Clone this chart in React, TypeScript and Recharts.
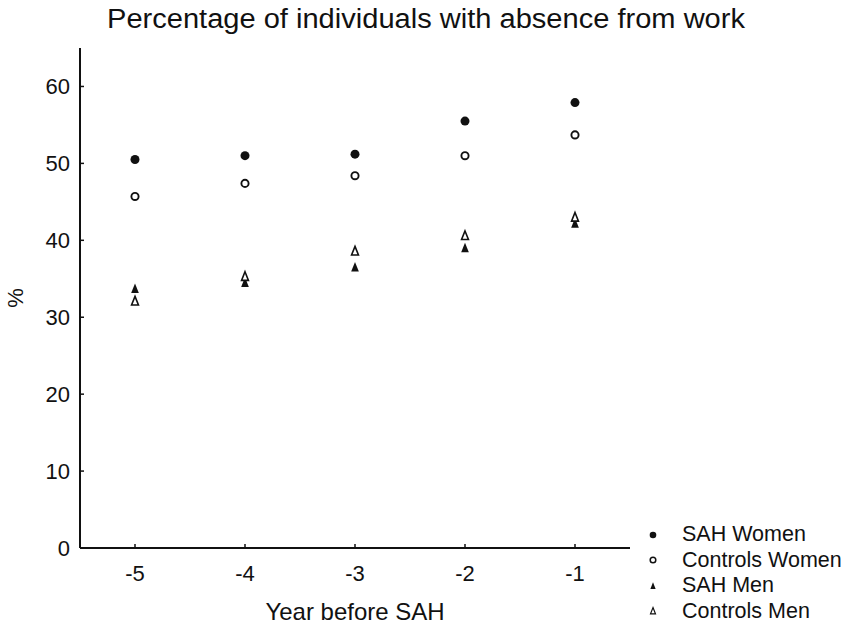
import React from 'react';
import { ScatterChart, Scatter, XAxis, YAxis, Legend, Customized } from 'recharts';

const years = [-5, -4, -3, -2, -1];
const sahWomen = [50.5, 51.0, 51.2, 55.5, 57.9];
const controlsWomen = [45.7, 47.4, 48.4, 51.0, 53.7];
const sahMen = [33.7, 34.5, 36.5, 39.0, 42.2];
const controlsMen = [32.1, 35.3, 38.6, 40.6, 43.0];
const yTicks = [0, 10, 20, 30, 40, 50, 60];
const xTicks = [-5, -4, -3, -2, -1];
const seriesNames = ['SAH Women', 'Controls Women', 'SAH Men', 'Controls Men'];
const titleText = 'Percentage of individuals with absence from work';
const xLabel = 'Year before SAH';
const yLabel = '%';

const FONT = '"Liberation Sans", Arial, Helvetica, sans-serif';
const INK = '#111';

const toPoints = (vals: number[]) => years.map((x, i) => ({ x, y: vals[i] }));

const FilledCircle = (p: any) => <circle cx={p.cx} cy={p.cy} r={4.5} fill={INK} />;
const OpenCircle = (p: any) => (
  <circle cx={p.cx} cy={p.cy} r={3.6} fill="#fff" stroke={INK} strokeWidth={1.9} />
);
const triPath = (cx: number, cy: number, s: number) =>
  `M${cx},${cy - s * 1.1} L${cx + s * 0.8},${cy + s * 0.9} L${cx - s * 0.8},${cy + s * 0.9} Z`;
const FilledTri = (p: any) => <path d={triPath(p.cx, p.cy, 4.8)} fill={INK} />;
const OpenTri = (p: any) => (
  <path d={triPath(p.cx, p.cy, 4.3)} fill="#fff" stroke={INK} strokeWidth={1.6} strokeLinejoin="miter" />
);

const shapes = [FilledCircle, OpenCircle, FilledTri, OpenTri];
const seriesData = [sahWomen, controlsWomen, sahMen, controlsMen];

const XTick = (props: any) => {
  const { x, y, payload } = props;
  return (
    <g>
      <line x1={x} y1={y} x2={x} y2={y - 4} stroke={INK} strokeWidth={1.5} />
      <text x={x} y={y + 33} textAnchor="middle" fontSize={22} fontFamily={FONT} fill={INK}>
        {payload.value}
      </text>
    </g>
  );
};

const YTick = (props: any) => {
  const { x, y, payload } = props;
  return (
    <g>
      <line x1={x} y1={y} x2={x + 4} y2={y} stroke={INK} strokeWidth={1.5} />
      <text x={x - 10} y={y + 8} textAnchor="end" fontSize={22} fontFamily={FONT} fill={INK}>
        {payload.value}
      </text>
    </g>
  );
};

const Title = () => (
  <text
    x={426}
    y={28}
    textAnchor="middle"
    fontSize={27}
    fontFamily={FONT}
    fill={INK}
    textLength={638}
    lengthAdjust="spacingAndGlyphs"
  >
    {titleText}
  </text>
);

const LegendMarker = ({ i }: { i: number }) => {
  const c = 8;
  const m = 8;
  if (i === 0) return <circle cx={c} cy={m} r={3.3} fill={INK} />;
  if (i === 1) return <circle cx={c} cy={m} r={2.8} fill="#fff" stroke={INK} strokeWidth={1.5} />;
  if (i === 2) return <path d={triPath(c, m, 3.3)} fill={INK} />;
  return <path d={triPath(c, m, 3.1)} fill="#fff" stroke={INK} strokeWidth={1.2} />;
};

const LegendContent = () => (
  <div style={{ fontFamily: FONT, fontSize: 21.5, color: INK }}>
    {seriesNames.map((n, i) => (
      <div key={n} style={{ display: 'flex', alignItems: 'center', height: 25.5, lineHeight: '25.5px' }}>
        <svg width={16} height={16} style={{ display: 'block', flex: 'none' }}>
          <LegendMarker i={i} />
        </svg>
        <span style={{ marginLeft: 21, whiteSpace: 'nowrap' }}>{n}</span>
      </div>
    ))}
  </div>
);

export default function App() {
  return (
    <div style={{ position: 'absolute', left: 0, top: 0, width: 851, height: 628, background: '#fff' }}>
      <ScatterChart width={851} height={628} margin={{ top: 48, right: 221, bottom: 0, left: 0 }}>
        <XAxis
          type="number"
          dataKey="x"
          domain={[-5.5, -0.5]}
          ticks={xTicks}
          height={80}
          tickLine={false}
          tickSize={0}
          tickMargin={0}
          axisLine={{ stroke: INK, strokeWidth: 2 }}
          tick={<XTick />}
          allowDataOverflow
          label={{
            content: (p: any) => {
              const vb = p.viewBox;
              return (
                <text
                  x={vb.x + vb.width / 2}
                  y={vb.y + 72}
                  textAnchor="middle"
                  fontSize={24}
                  fontFamily={FONT}
                  fill={INK}
                >
                  {xLabel}
                </text>
              );
            },
          }}
        />
        <YAxis
          type="number"
          dataKey="y"
          domain={[0, 65]}
          ticks={yTicks}
          width={80}
          tickLine={false}
          tickSize={0}
          tickMargin={0}
          axisLine={{ stroke: INK, strokeWidth: 2 }}
          tick={<YTick />}
          allowDataOverflow
          label={{
            content: (p: any) => {
              const vb = p.viewBox;
              const cx = 15;
              const cy = vb.y + vb.height / 2;
              return (
                <text
                  x={cx}
                  y={cy}
                  transform={`rotate(-90 ${cx} ${cy})`}
                  textAnchor="middle"
                  dominantBaseline="central"
                  fontSize={22}
                  fontFamily={FONT}
                  fill={INK}
                >
                  {yLabel}
                </text>
              );
            },
          }}
        />
        {seriesData.map((vals, i) => (
          <Scatter
            key={seriesNames[i]}
            name={seriesNames[i]}
            data={toPoints(vals)}
            shape={shapes[i]}
            isAnimationActive={false}
          />
        ))}
        <Legend
          layout="vertical"
          align="center"
          verticalAlign="middle"
          content={<LegendContent />}
          wrapperStyle={{ position: 'absolute', left: 645, top: 522, width: 206, margin: 0 }}
        />
        <Customized component={<Title />} />
      </ScatterChart>
    </div>
  );
}
